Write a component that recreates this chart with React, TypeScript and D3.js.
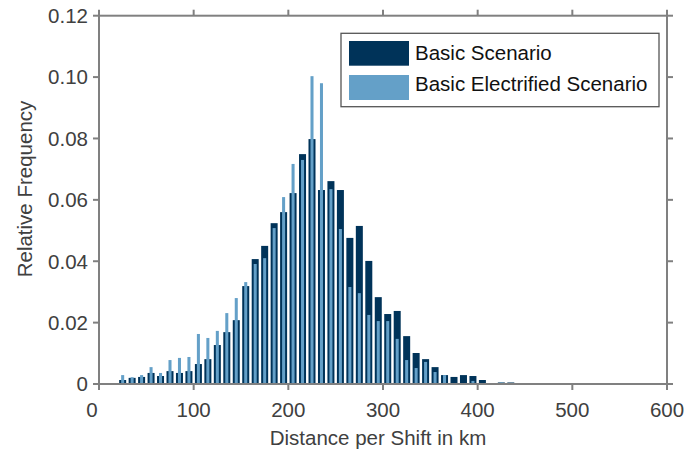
import React, { useEffect } from "react";
import * as d3 from "d3";

const binCenters = [15, 25, 35, 45, 55, 65, 75, 85, 95, 105, 115, 125, 135, 145, 155, 165, 175, 185, 195, 205, 215, 225, 235, 245, 255, 265, 275, 285, 295, 305, 315, 325, 335, 345, 355, 365, 375, 385, 395, 405, 415, 425, 435, 445, 455, 465, 475, 485, 495, 505, 515, 525];

const basicScenario = [0.0003, 0.0013, 0.002, 0.0023, 0.0036, 0.0026, 0.0042, 0.0036, 0.0042, 0.0065, 0.0081, 0.0127, 0.0169, 0.0208, 0.0319, 0.0407, 0.045, 0.0524, 0.056, 0.0622, 0.0749, 0.0798, 0.0632, 0.0661, 0.0632, 0.0476, 0.0515, 0.0401, 0.0283, 0.0228, 0.0238, 0.0156, 0.0101, 0.0081, 0.0055, 0.0029, 0.0023, 0.0029, 0.0026, 0.0013, 0.0003, 0.0005, 0.0005, 0.0003, 0, 0, 0, 0.0003, 0.0003, 0, 0, 0.0003];

const electrifiedScenario = [0.0003, 0.0029, 0.0022, 0.0029, 0.0055, 0.0036, 0.0078, 0.0085, 0.0088, 0.0163, 0.015, 0.0173, 0.0231, 0.028, 0.0332, 0.0391, 0.041, 0.0508, 0.0609, 0.0717, 0.073, 0.1003, 0.098, 0.0635, 0.0505, 0.0316, 0.0296, 0.0225, 0.0205, 0.0205, 0.0147, 0.0078, 0.0052, 0.0072, 0.0039, 0.0029, 0.0003, 0, 0.001, 0, 0, 0.0005, 0, 0, 0, 0, 0, 0, 0, 0, 0, 0];

const xTicks = [0, 100, 200, 300, 400, 500, 600];
const yTicks = [0, 0.02, 0.04, 0.06, 0.08, 0.1, 0.12];
const seriesNames = ["Basic Scenario", "Basic Electrified Scenario"];
const binWidth = 10;

const W = 699;
const H = 450;
const L = 99, R = 667, T = 15.7, B = 384;
const DARK = "#003359";
const LIGHT = "#64A0C8";
const AXIS = "#808080";
const TEXT = "#404040";
const FONT = "'Liberation Sans', Arial, Helvetica, sans-serif";
const FS = 20.5;

export default function App() {
  useEffect(() => {
    document.body.style.margin = "0";
  }, []);
  const x = d3.scaleLinear().domain([0, 600]).range([L, R]);
  const y = d3.scaleLinear().domain([0, 0.12]).range([B, T]);
  const bw = x(binWidth) - x(0);
  const darkW = bw * 0.74;
  const lightW = bw * 0.32;
  const tl = 6;

  return (
    <svg width={W} height={H} style={{ display: "block", background: "#fff" }} fontFamily={FONT}>
      <rect x={0} y={0} width={W} height={H} fill="#fff" />
      {binCenters.map((c, i) =>
        basicScenario[i] > 0 ? (
          <rect key={"d" + i} x={x(c) - darkW / 2} y={y(basicScenario[i])} width={darkW} height={B - y(basicScenario[i])} fill={DARK} />
        ) : null
      )}
      {binCenters.map((c, i) =>
        electrifiedScenario[i] > 0 ? (
          <rect key={"l" + i} x={x(c) - lightW / 2} y={y(electrifiedScenario[i])} width={lightW} height={B - y(electrifiedScenario[i])} fill={LIGHT} />
        ) : null
      )}
      <rect x={L} y={T} width={R - L} height={B - T} fill="none" stroke={AXIS} strokeWidth={2} />
      {xTicks.map((t) => (
        <g key={"xt" + t}>
          <line x1={x(t)} x2={x(t)} y1={B} y2={B + tl} stroke={AXIS} strokeWidth={2} />
          <line x1={x(t)} x2={x(t)} y1={T} y2={T - tl} stroke={AXIS} strokeWidth={2} />
          <text x={t === 0 ? x(t) - 7 : x(t)} y={417} textAnchor="middle" fontSize={FS} fill={TEXT}>{t}</text>
        </g>
      ))}
      {yTicks.map((t) => (
        <g key={"yt" + t}>
          <line x1={L} x2={L - tl} y1={y(t)} y2={y(t)} stroke={AXIS} strokeWidth={2} />
          <line x1={R} x2={R + tl} y1={y(t)} y2={y(t)} stroke={AXIS} strokeWidth={2} />
          <text x={88} y={y(t)} dy="0.36em" textAnchor="end" fontSize={FS} fill={TEXT}>{t === 0 ? "0" : t.toFixed(2)}</text>
        </g>
      ))}
      <text x={378} y={445} textAnchor="middle" fontSize={FS} fill={TEXT}>Distance per Shift in km</text>
      <text transform={`translate(32,189) rotate(-90)`} textAnchor="middle" fontSize={FS} fill={TEXT}>Relative Frequency</text>
      <rect x={341} y={33.3} width={318} height={73.4} fill="#fff" stroke="#555" strokeWidth={1.3} />
      <rect x={349} y={41} width={60} height={24.7} fill={DARK} />
      <rect x={349} y={75} width={60} height={25} fill={LIGHT} />
      <text x={415} y={60} fontSize={FS} fill="#111">{seriesNames[0]}</text>
      <text x={415} y={90.7} fontSize={FS} fill="#111">{seriesNames[1]}</text>
    </svg>
  );
}
